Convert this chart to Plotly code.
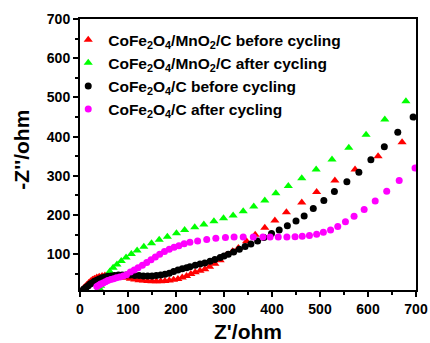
import plotly.graph_objects as go

# CoFe2O4/MnO2/C before cycling (red triangles)
red_x = [5, 8, 11, 14, 18, 22, 26, 30, 35, 40, 46, 52, 58, 65, 72, 80, 88, 96, 105, 114,
         123, 132, 141, 150, 159, 168, 177, 186, 195, 204, 213, 222, 231, 240, 250, 260,
         270, 281, 292, 305, 318, 330, 347, 365, 385, 406, 430, 462, 493, 531, 573, 621, 671]
red_y = [10, 14, 18, 22, 27, 31, 35, 38, 41, 43, 45, 46, 46, 46, 45, 44, 42, 40, 38, 36,
         34, 33, 32, 31, 31, 31, 32, 33, 35, 37, 41, 45, 50, 54, 58, 62,
         68, 76, 85, 98, 108, 116, 133, 150, 168, 186, 207, 232, 259, 288, 316, 350, 386]

# CoFe2O4/MnO2/C after cycling (green triangles)
green_x = [40, 43, 48, 55, 62, 69, 77, 86, 96, 107, 119, 133, 149, 165, 182, 201, 218, 239,
           258, 279, 299, 319, 340, 362, 385, 408, 434, 462, 492, 525, 560, 596, 635, 679]
green_y = [14, 20, 32, 44, 56, 66, 74, 83, 92, 101, 110, 119, 128, 137, 145, 154, 162, 169,
           176, 184, 192, 199, 210, 222, 237, 256, 274, 294, 316, 342, 372, 405, 444, 490]

# CoFe2O4/C before cycling (black circles)
black_x = [7, 10, 13, 17, 21, 25, 30, 35, 40, 46, 52, 58, 65, 72, 80, 88, 96, 105, 114, 123,
           132, 141, 150, 159, 168, 177, 186, 195, 204, 213, 222, 229, 240, 250, 260, 271,
           281, 292, 300, 309, 320, 332, 344, 356, 370, 383, 399, 415, 432, 450, 467, 486,
           508, 530, 556, 581, 606, 634, 662, 694]
black_y = [10, 13, 16, 20, 24, 27, 31, 34, 37, 40, 42, 44, 45, 46, 47, 47, 47, 47, 46, 46,
           45, 45, 45, 46, 47, 49, 52, 56, 60, 63, 66, 68, 72, 75, 78, 82,
           87, 92, 96, 100, 106, 113, 120, 126, 134, 143, 153, 162, 173, 185, 198, 217,
           237, 260, 285, 309, 341, 374, 411, 450]

# CoFe2O4/C after cycling (magenta circles)
mag_x = [35, 39, 43, 48, 53, 58, 64, 70, 76, 83, 90, 97, 105, 113, 121, 130, 139, 148, 157,
         166, 176, 186, 196, 206, 217, 229, 245, 264, 283, 303, 321, 340, 361, 381, 396, 413,
         431, 448, 463, 478, 493, 507, 522, 537, 553, 571, 592, 615, 639, 665, 698]
mag_y = [18, 21, 24, 27, 30, 33, 36, 38, 40, 42, 45, 48, 55, 60, 66, 72, 79, 86, 93,
         100, 107, 113, 118, 122, 127, 131, 134, 138, 141, 143, 144, 144, 144, 144, 144, 144,
         144, 145, 146, 148, 151, 156, 162, 171, 183, 197, 214, 236, 261, 288, 320]

names = ["<b>CoFe<sub>2</sub>O<sub>4</sub>/MnO<sub>2</sub>/C before cycling</b>",
         "<b>CoFe<sub>2</sub>O<sub>4</sub>/MnO<sub>2</sub>/C after cycling</b>",
         "<b>CoFe<sub>2</sub>O<sub>4</sub>/C before cycling</b>",
         "<b>CoFe<sub>2</sub>O<sub>4</sub>/C after cycling</b>"]

x_ticks = [0, 100, 200, 300, 400, 500, 600, 700]
y_ticks = [100, 200, 300, 400, 500, 600, 700]
minor_ticks = [50, 150, 250, 350, 450, 550, 650]

fig = go.Figure()
series = [
    (red_x, red_y, "#ff0000", "triangle-up", 8),
    (green_x, green_y, "#00ff00", "triangle-up", 8),
    (black_x, black_y, "#000000", "circle", 7),
    (mag_x, mag_y, "#ff00ff", "circle", 7),
]
for (xs, ys, col, sym, sz), nm in zip(series, names):
    fig.add_trace(go.Scatter(x=xs, y=ys, mode="markers", name=nm,
                             marker=dict(color=col, symbol=sym, size=sz, line=dict(width=0))))

font_family = "Liberation Sans, Arial, sans-serif"
fig.update_layout(
    width=430, height=343,
    margin=dict(l=80, r=14, t=19, b=53),
    paper_bgcolor="white", plot_bgcolor="white",
    font=dict(family=font_family, color="black"),
    showlegend=True,
    legend=dict(x=-0.035, y=0.985, xanchor="left", yanchor="top",
                bgcolor="rgba(0,0,0,0)", font=dict(size=15.5, family=font_family),
                tracegroupgap=0),
    annotations=[
        dict(text="<b>Z'/ohm</b>", xref="paper", yref="paper", x=0.5, y=-0.153,
             xanchor="center", yanchor="middle", showarrow=False, font=dict(size=21)),
        dict(text="<b>-Z''/ohm</b>", xref="paper", yref="paper", x=-0.1726, y=0.518,
             xanchor="center", yanchor="middle", showarrow=False, textangle=-90,
             font=dict(size=21)),
    ],
)
axis_common = dict(showgrid=False, zeroline=False, showline=True, linecolor="black", linewidth=2,
                   mirror=True, ticks="outside", ticklen=5, tickwidth=2, tickcolor="black",
                   tickfont=dict(size=14), automargin=False,
                   minor=dict(tickvals=minor_ticks, ticks="outside",
                              ticklen=3, tickwidth=2, tickcolor="black"))
fig.update_xaxes(range=[0, 700], tickvals=x_ticks, ticktext=[f"<b>{v}</b>" for v in x_ticks],
                 **axis_common)
fig.update_yaxes(range=[9, 700], tickvals=y_ticks, ticktext=[f"<b>{v}</b>" for v in y_ticks],
                 **axis_common)

fig.write_html("out.html", config={"displayModeBar": False},
               post_script="document.body.style.margin='0';document.body.style.overflow='hidden';")
